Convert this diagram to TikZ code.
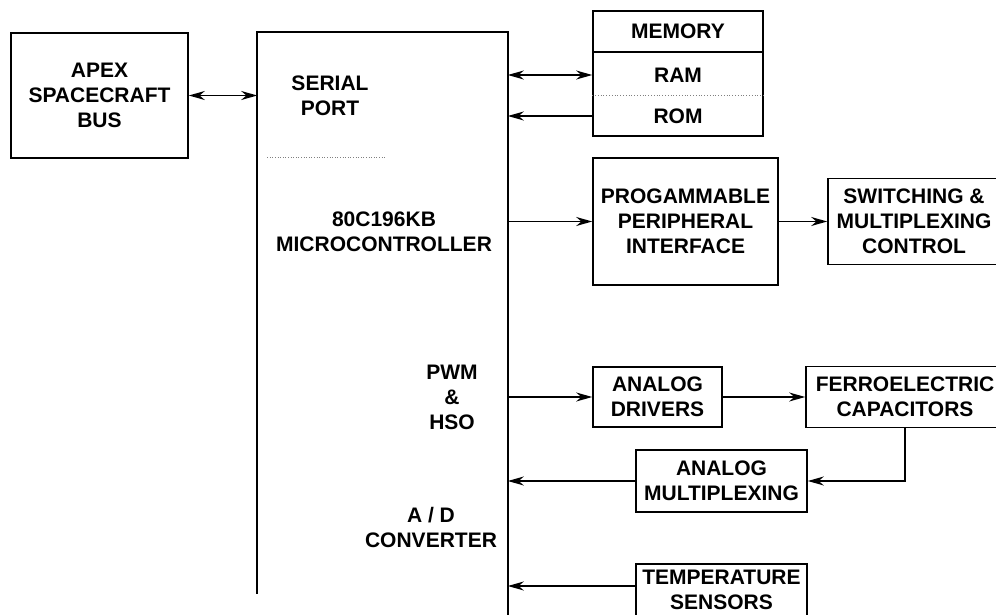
\documentclass[tikz,border=0pt]{standalone}
\usepackage{fontspec}
\setmainfont{Liberation Sans}
\usetikzlibrary{arrows.meta}
\begin{document}
\begin{tikzpicture}[x=1pt, y=-1pt, line width=1.6pt,
        every node/.style={font=\bfseries\fontsize{21}{25}\selectfont, align=center, inner sep=0pt},
        blk/.style n args={2}{draw, minimum width=#1, minimum height=#2},
        arr/.style={-{Stealth[length=16pt, width=9pt]}},
        barr/.style={{Stealth[length=16pt, width=9pt]}-{Stealth[length=16pt, width=9pt]}}]
        \useasboundingbox (0,0) rectangle (996,615);

        % Nodes
        \node[blk={177pt}{125pt}] (apex) at (99.5,95.5) {APEX\\SPACECRAFT\\BUS};
        \node[minimum width=249pt, minimum height=582pt] (mcu) at (382.5,324) {};
        \node (serial) at (330,95.5) {SERIAL\\PORT};
        \node (core) at (384,232) {80C196KB\\MICROCONTROLLER};
        \node (pwm) at (452,397.5) {PWM\\\&\\HSO};
        \node (adc) at (431,527.5) {A / D\\CONVERTER};

        \node[blk={170pt}{125pt}] (mem) at (678,73.5) {};
        \node[minimum width=170pt] (memhd) at (678,31.5) {MEMORY};
        \node[minimum width=170pt] (ram) at (678,75) {RAM};
        \node[minimum width=170pt] (rom) at (678,116) {ROM};

        \node[blk={185pt}{127pt}] (ppi) at (685.5,221.5) {PROGAMMABLE\\PERIPHERAL\\INTERFACE};
        \node[blk={172pt}{86pt}] (sw) at (914,221.5) {SWITCHING \&\\MULTIPLEXING\\CONTROL};
        \node[blk={129pt}{60pt}] (drv) at (657.5,397) {ANALOG\\DRIVERS};
        \node[blk={198pt}{61pt}] (ferro) at (905,397) {FERROELECTRIC\\CAPACITORS};
        \node[blk={171pt}{62pt}] (amux) at (721.5,481) {ANALOG\\MULTIPLEXING};
        \node[blk={171pt}{52pt}] (temp) at (721.5,590) {TEMPERATURE\\SENSORS};

        % Microcontroller outline, open at the bottom
        \draw ([yshift=22pt]mcu.south west) -- (mcu.north west) -- (mcu.north east) -- (mcu.south east);
        \draw[dotted, gray, line width=0.6pt] ([xshift=10pt]mcu.west |- 0,157) -- (385,157);

        % Memory dividers
        \draw (mem.west |- 0,52) -- (mem.east |- 0,52);
        \draw[dotted, gray, line width=0.8pt] (mem.west |- 0,95) -- (mem.east |- 0,95);

        % Arrows
        \draw[barr] (apex.east) -- (apex.east -| mcu.west);
        \draw[barr] (ram.west -| mcu.east) -- (ram.west);
        \draw[arr] (rom.west) -- (rom.west -| mcu.east);
        \draw[arr] (ppi.west -| mcu.east) -- (ppi.west);
        \draw[arr] (ppi.east) -- (sw.west);
        \draw[arr] (drv.west -| mcu.east) -- (drv.west);
        \draw[arr] (drv.east) -- (ferro.west);
        \draw[arr] (ferro.south) |- (amux.east);
        \draw[arr] (amux.west) -- (amux.west -| mcu.east);
        \draw[arr] ([yshift=4pt]temp.west) -- ([yshift=4pt]temp.west -| mcu.east);
\end{tikzpicture}
\end{document}
